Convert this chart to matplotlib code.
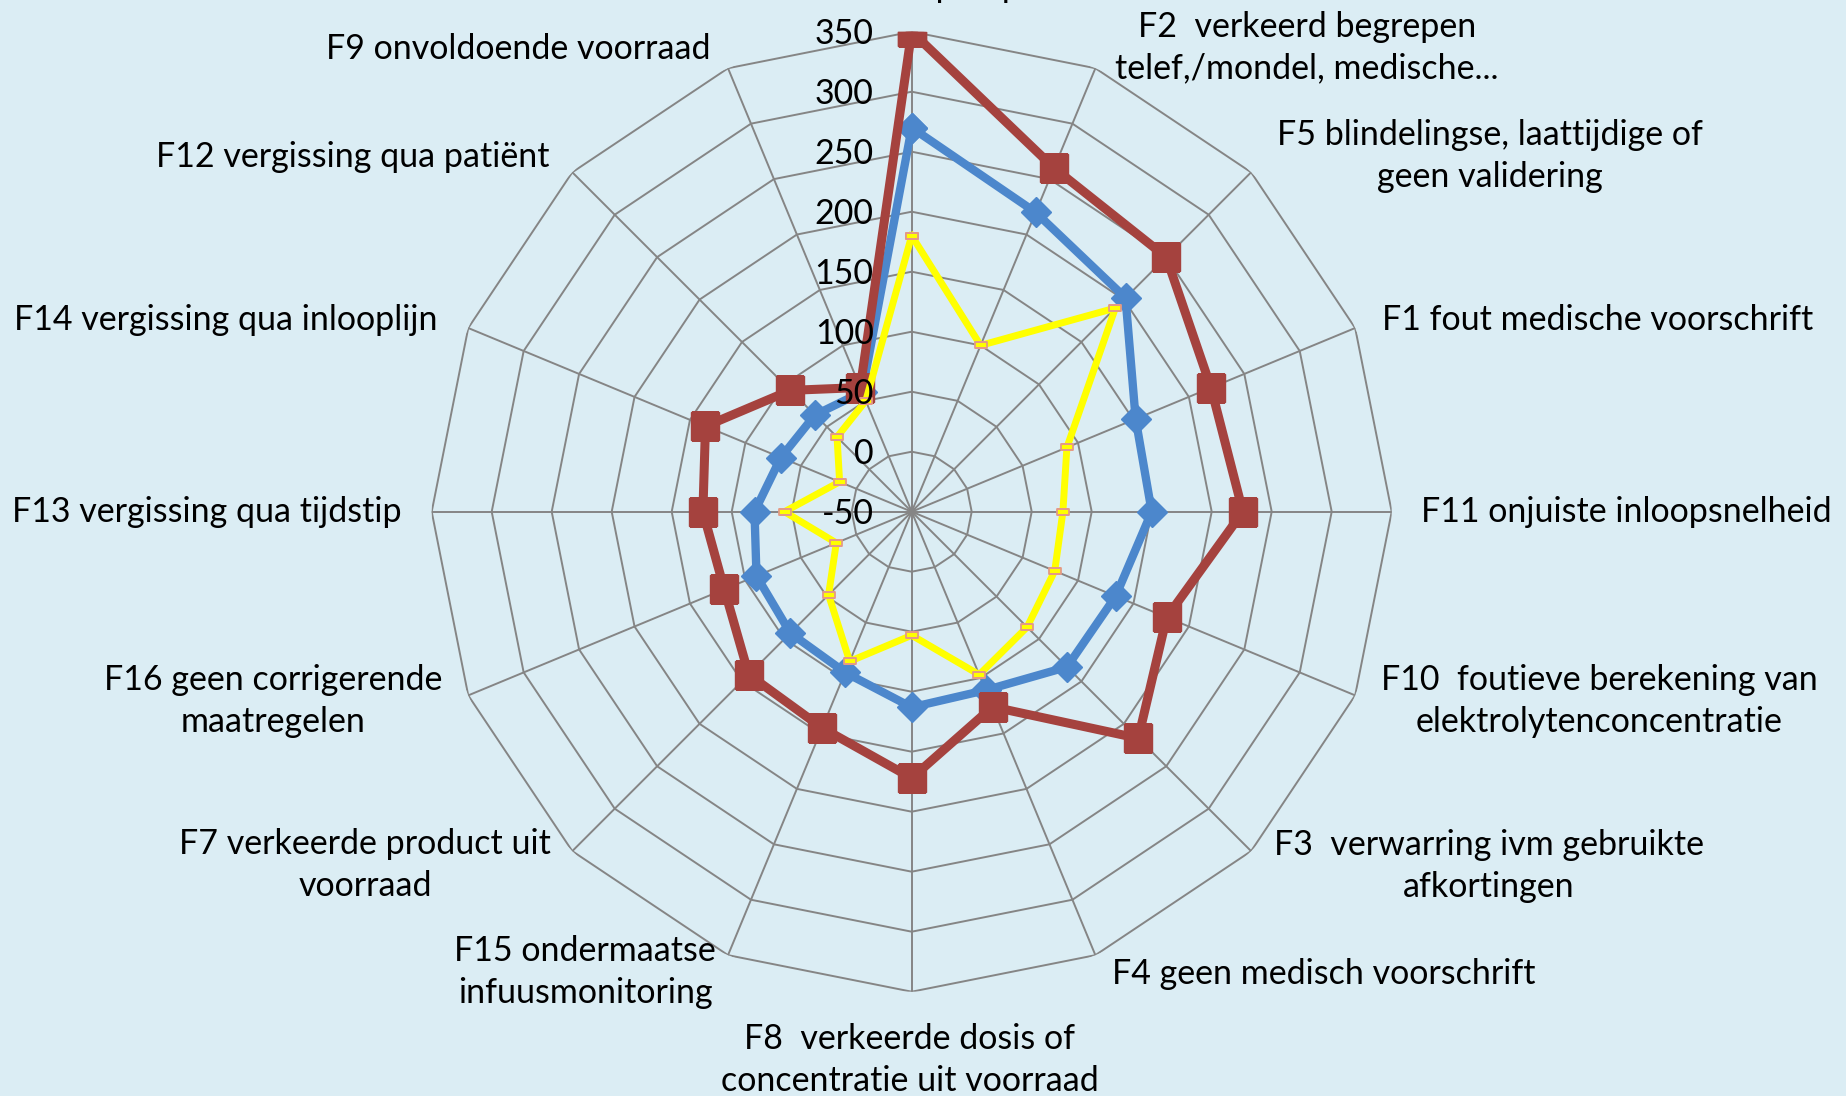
import numpy as np
import matplotlib
matplotlib.use("Agg")
import matplotlib.pyplot as plt
from matplotlib.path import Path

# ---------------- data ----------------
categories = [
    "F6 vergissing qua toedieningsweg\nof infuuspomp",
    "F2  verkeerd begrepen\ntelef,/mondel, medische...",
    "F5 blindelingse, laattijdige of\ngeen validering",
    "F1 fout medische voorschrift",
    "F11 onjuiste inloopsnelheid",
    "F10  foutieve berekening van\nelektrolytenconcentratie",
    "F3  verwarring ivm gebruikte\nafkortingen",
    "F4 geen medisch voorschrift",
    "F8  verkeerde dosis of\nconcentratie uit voorraad",
    "F15 ondermaatse\ninfuusmonitoring",
    "F7 verkeerde product uit\nvoorraad",
    "F16 geen corrigerende\nmaatregelen",
    "F13 vergissing qua tijdstip",
    "F14 vergissing qua inlooplijn",
    "F12 vergissing qua patiënt",
    "F9 onvoldoende voorraad",
]
series_red = [350, 260, 250, 220, 226, 180, 217, 126, 172, 145, 142, 119, 124, 136, 93, 62]
series_blue = [270, 220, 202, 152, 150, 134, 133, 111, 113, 95, 93, 90, 81, 68, 64, 58]
series_yellow = [180, 100, 190, 90, 76, 79, 86, 97, 53, 85, 48, 18, 56, 15, 38, 50]
radial_ticks = [-50, 0, 50, 100, 150, 200, 250, 300, 350]

# ---------------- layout ----------------
W, H = 1846, 1096
BG = "#DBEDF4"
GRID = "#858585"
FONT = "Lato"
FS = 24.5

fig = plt.figure(figsize=(W / 100, H / 100), dpi=100, facecolor=BG)
cx, cy, R = 911.7, 511.7, 480.0
ax = fig.add_axes([(cx - R) / W, (H - cy - R) / H, 2 * R / W, 2 * R / H],
                  projection="polar", facecolor=BG)
ax.set_theta_zero_location("N")
ax.set_theta_direction(-1)
ax.set_ylim(radial_ticks[0], radial_ticks[-1])
ax.grid(False)
ax.spines["polar"].set_visible(False)
ax.set_xticks([])
ax.set_yticks([])
ax.patch.set_alpha(0)

n = len(categories)
theta = np.arange(n) * 2 * np.pi / n
theta_c = np.append(theta, theta[0])

# polygon gridlines
for t in radial_ticks[1:]:
    ax.plot(theta_c, [t] * (n + 1), color=GRID, lw=1.4, zorder=1)
# spokes
for th in theta:
    ax.plot([th, th], [radial_ticks[0], radial_ticks[-1]], color=GRID, lw=1.4, zorder=1)

def closed(v):
    return list(v) + [v[0]]

rect_marker = Path([(-1, -0.5), (1, -0.5), (1, 0.5), (-1, 0.5), (-1, -0.5)],
                   [Path.MOVETO, Path.LINETO, Path.LINETO, Path.LINETO, Path.CLOSEPOLY])

ax.plot(theta_c, closed(series_blue), color="#4C87CC", lw=6, marker="D", ms=15,
        mfc="#4C87CC", mec="#4C87CC", zorder=3)
ax.plot(theta_c, closed(series_red), color="#A5423E", lw=6.5, marker="s", ms=20,
        mfc="#A5423E", mec="#A5423E", zorder=4)
ax.plot(theta_c, closed(series_yellow), color="#FFFF00", lw=5, marker=rect_marker, ms=8,
        mfc="#FFFF00", mec="#E49A86", mew=1.3, zorder=5)

# radial tick labels
for t in radial_ticks:
    ax.annotate(str(t), xy=(0, t), xytext=(-38, -2), textcoords="offset pixels",
                ha="right", va="center", fontsize=FS, family=FONT, color="black",
                zorder=10, annotation_clip=False)

# category labels (pixel positions of label centres)
label_pos = [
    (912, -34), (1307, 48), (1490, 156), (1598, 320), (1626, 512), (1599, 701),
    (1489, 866), (1324, 974), (910, 1060), (585, 972), (365, 865), (273, 701),
    (207, 512), (226, 320), (353, 157), (518, 49),
]
for lab, (px, py) in zip(categories, label_pos):
    fig.text(px / W, 1 - py / H, lab, ha="center", va="center", multialignment="center",
             fontsize=FS, family=FONT, color="black", linespacing=1.35)

fig.savefig("out.png", dpi=100, facecolor=BG)
